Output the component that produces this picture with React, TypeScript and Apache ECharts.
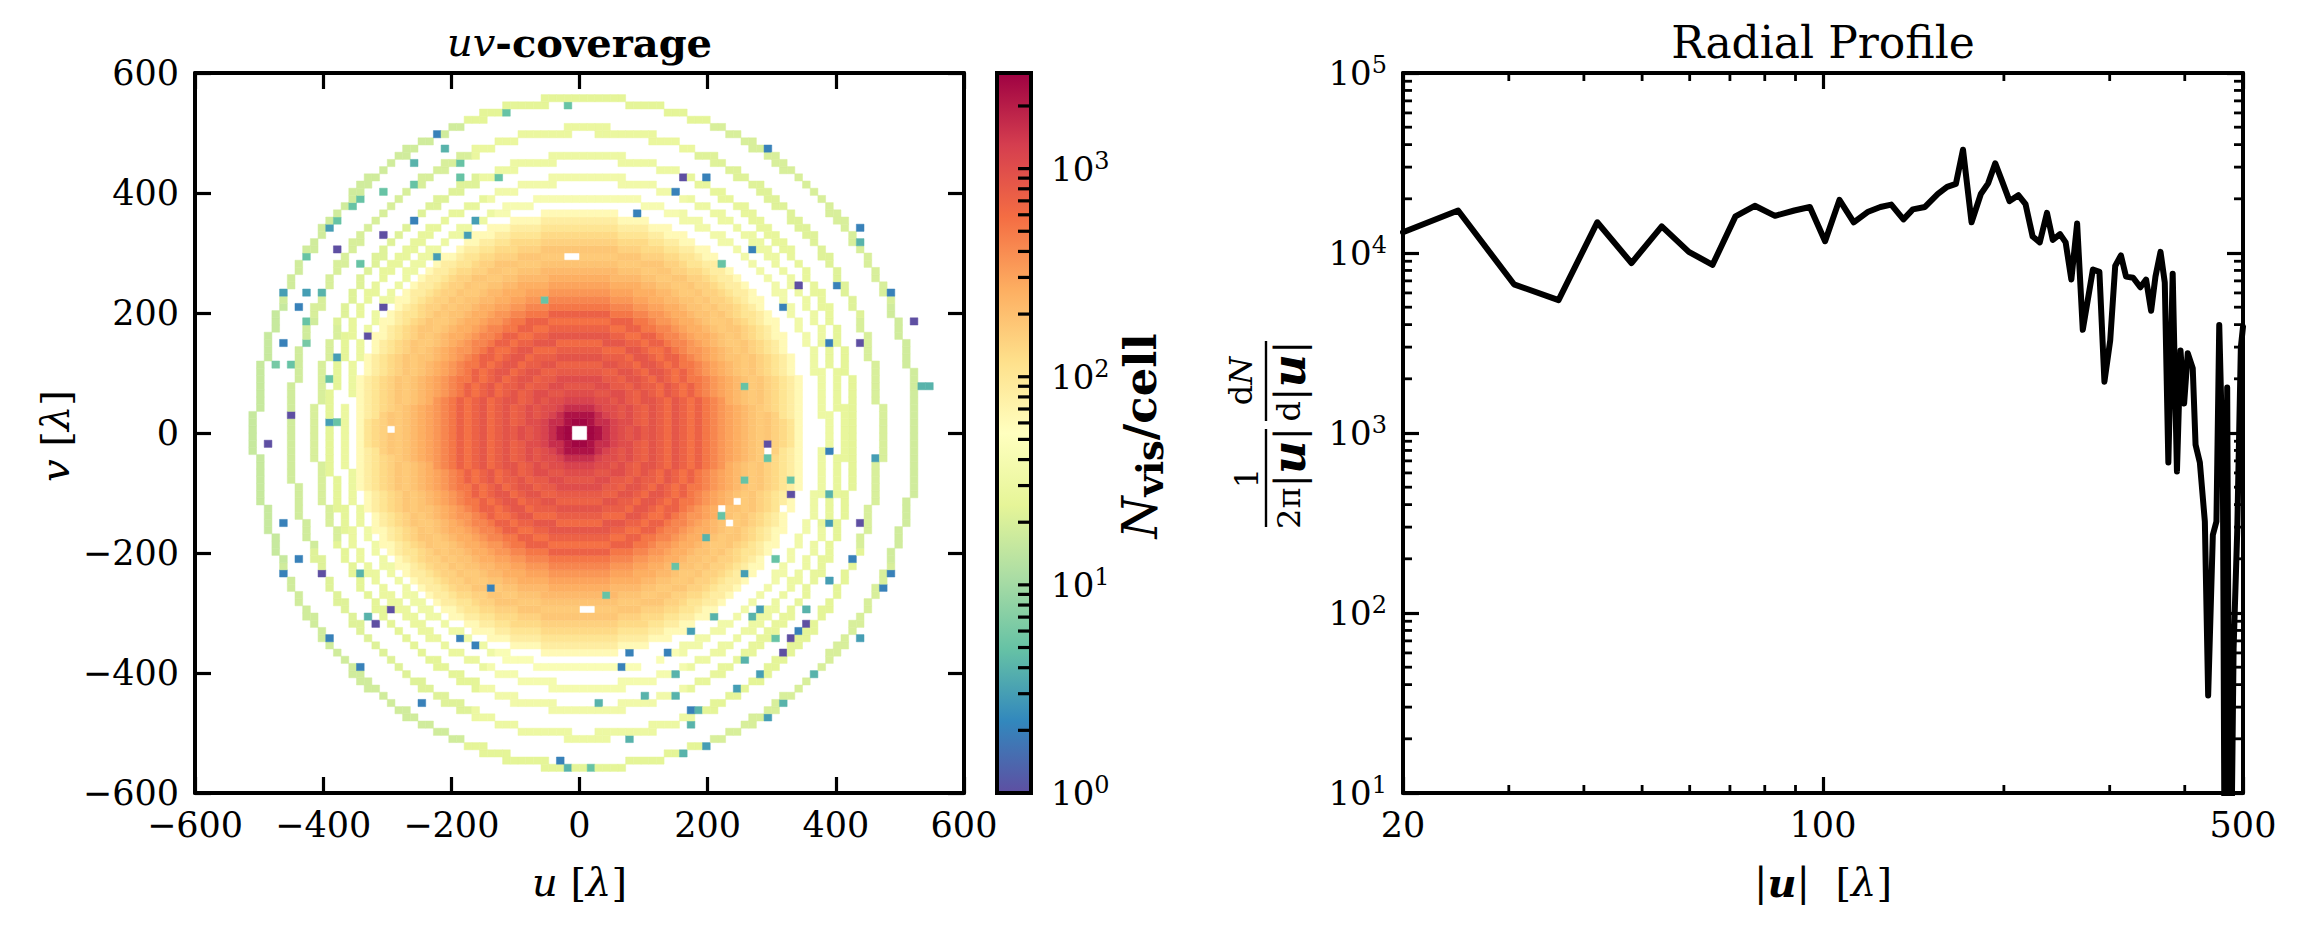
import React, { useEffect, useRef } from "react";
import * as echarts from "echarts";

const SERIF = '"DejaVu Serif", "Liberation Serif", serif';

// ---------------- uv-coverage (left panel) ----------------
const uvMin = -600;
const uvMax = 600;
const uvInterval = 200;
const cellSize = 12;
const cellsPerSide = 100;

// counts per cell in the dense core, by elliptical radius bin (12 λ bins)
const denseBinWidth = 12;
const denseAspectU = 0.95;
const denseCounts = [
  0, 2700, 2300, 1600, 1200, 1000, 850, 1000, 800, 700, 900, 750, 620, 850, 700, 560,
  720, 520, 430, 350, 300, 260, 220, 190, 170, 180, 150, 130, 105, 85, 62,
];

// empty cells inside the dense region
const gapU = [-24, -12, -204, -293, -366, 3, 18, 221, 232, 96, 108, 242, 315, 292];
const gapV = [294, 294, 305, 5, 50, -292, -292, -125, -153, -375, -375, -114, -125, -30];

// outer uv tracks (ellipses): semi-axes and counts per 45° sector (E, NE, N, NW, W, SW, S, SE)
const ringCenterU = 10;
const ringHalfWidth = 6.3;
const ringSemiU = [515, 460, 420, 400, 375];
const ringSemiV = [556, 505, 460, 424, 394];
const ringCounts = [
  [18, 20, 24, 18, 16, 18, 24, 20],
  [20, 22, 28, 20, 18, 22, 30, 24],
  [24, 26, 30, 22, 20, 24, 34, 26],
  [26, 30, 34, 26, 24, 28, 38, 30],
  [30, 34, 40, 30, 28, 32, 44, 34],
];

// sparse low-count cells (blue / purple)
const outlierU = [
  -220, -113, -17, -208, -256, -184, -184, -125, -304, -256, -340, -351, -376, -256, -387, -304, -160, -173, -376, -220,
  -423, -340, -459, -423, -399, -434, -304, -423, -328, -459, -423, -376, -448, -472, -387, -448, -387, -53,
  292, 388, 460, 292, 257, 328, 328, 388, 221, 388, 436, 197, 423, 304, 148, 257, 483, 388, 471, 42, 351, 280,
  268, 208, 351, 340, 328, 172, 436, 304, 315, 77, 137, 257, 65, 280, 148, 365, 245, 172, 185, 100, 148, 315,
  292, 172, 197, 160, 77, 29, 17,
  292, 164, 150, 197, 91, 268, 437, 437, 341, 401, 484, 314, 519, 388, 437, 530, 541, 219, 255,
  -459, -434, -459, -399, -339, -292, -315, -328, -386, -339, -251, -186, -158, -137, -483, -445, -383, -27, -16, 27, 60,
];
const outlierV = [
  494, 531, 544, 471, 448, 448, 423, 423, 400, 411, 388, 376, 351, 351, 340, 328, 351, 328, 304, 292,
  292, 279, 232, 232, 232, 208, 208, 184, 159, 148, 148, 124, 112, 112, 89, 29, 17, 219,
  -19, -32, -43, -43, -79, -79, -103, -103, -139, -151, -151, -175, -211, -211, -222, -235, -235, -246, -258, -270, -294, -294,
  -306, -306, -318, -331, -342, -331, -342, -342, -367, -367, -367, -378, -390, -402, -402, -402, -425, -461, -461, -437, -437, -448,
  -473, -485, -521, -533, -510, -448, -557,
  473, 428, 401, 428, 364, 305, 340, 317, 244, 244, 233, 210, 185, 150, 150, 79, 79, 286, 79,
  -148, -207, -233, -233, -233, -291, -317, -305, -340, -389, -448, -340, -353, -256, -17, 30, 17, -545, -557, -453, -389,
];
const outlierN = [
  2, 5, 5, 4, 4, 5, 5, 5, 5, 5, 5, 5, 5, 2, 3, 1, 3, 3, 1, 3,
  5, 5, 3, 3, 4, 2, 1, 5, 1, 2, 6, 3, 5, 6, 5, 1, 3, 5,
  1, 2, 3, 5, 5, 5, 1, 4, 5, 3, 1, 4, 2, 5, 5, 3, 2, 3, 2, 5, 4, 3,
  4, 4, 1, 2, 1, 3, 3, 5, 1, 2, 2, 4, 4, 3, 4, 4, 3, 2, 4, 4, 4, 4,
  3, 4, 3, 4, 4, 4, 5,
  2, 1, 2, 2, 2, 2, 2, 4, 1, 2, 2, 2, 1, 2, 1, 4, 4, 5, 5,
  2, 2, 2, 1, 4, 1, 1, 4, 2, 2, 2, 2, 2, 2, 1, 1, 5, 2, 4, 4, 2,
];

// colour bar
const colorbarMin = 1;
const colorbarMax = 2880;
const colorbarTickValues = [
  2, 3, 4, 5, 6, 7, 8, 9, 10, 20, 30, 40, 50, 60, 70, 80, 90, 100, 200, 300, 400, 500, 600, 700, 800, 900, 1000, 2000,
];
const spectralR = [
  "#5e4fa2", "#3288bd", "#66c2a5", "#abdda4", "#e6f598", "#ffffbf",
  "#fee08b", "#fdae61", "#f46d43", "#d53e4f", "#9e0142",
];

// ---------------- radial profile (right panel) ----------------
const profileU = [
  20, 24.7, 30.6, 36.3, 42.1, 48.0, 53.9, 59.8, 65.5, 71.5, 77.0, 83.2, 89.6, 95.1, 100.8, 106.5, 112.5, 118.9, 124.6, 129.9,
  136.1, 141.1, 147.8, 155.3, 160.9, 166.4, 171.0, 176.7, 183.1, 188.3, 193.5, 198.9, 204.4, 211.4, 217.3, 223.3, 229.5, 235.9, 241.2, 248.0,
  253.4, 259.0, 264.8, 270.6, 281.3, 288.4, 294.0, 300.6, 306.4, 313.2, 319.4, 328.2, 337.4, 344.9, 351.6, 357.5, 364.5, 370.5, 375.6, 381.9,
  388.2, 393.5, 399.0, 404.6, 412.4, 416.9, 423.8, 432.0, 437.5, 445.4, 451.6, 456.5, 462.9, 466.7, 470.6, 475.7, 482.3, 489.1, 495.9, 500,
];
const profileN = [
  13030, 17220, 6700, 5470, 14810, 8795, 14050, 10150, 8600, 15970, 18300, 16090, 17220, 18020, 11630, 19730, 14810, 16960, 18020, 18570,
  15380, 17480, 18020, 21280, 23290, 24190, 37480, 14810, 21280, 24370, 31510, 24740, 19430, 20960, 18710, 12350, 11460, 16710, 11810, 12730,
  11460, 7120, 14590, 3748, 8095, 7850, 1929, 3272, 8470, 9700, 7394, 7282, 6452, 7120, 4772, 7394, 10150, 6858, 686, 7676,
  612, 2877, 1459, 2771, 2294, 860, 686, 322, 34.8, 271, 322, 3981, 612, 1, 1788, 1, 63.6, 288, 2988, 3890,
];
const radialXMin = 20;
const radialXMax = 500;
const radialYMin = 10;
const radialYMax = 100000;
const radialMinorX = [30, 40, 50, 60, 70, 80, 90, 200, 300, 400];
const radialMinorY = [
  20, 30, 40, 50, 60, 70, 80, 90, 200, 300, 400, 500, 600, 700, 800, 900,
  2000, 3000, 4000, 5000, 6000, 7000, 8000, 9000, 20000, 30000, 40000, 50000, 60000, 70000, 80000, 90000,
];

// ---------------- layout ----------------
const G_UV = { left: 195, top: 73, width: 769, height: 720 };
const G_CB = { left: 997, top: 73, width: 34, height: 720 };
const G_RP = { left: 1403, top: 73, width: 840, height: 720 };

function cellIndex(u: number, v: number) {
  const i = Math.floor((u - uvMin) / cellSize);
  const j = Math.floor((v - uvMin) / cellSize);
  if (i < 0 || i >= cellsPerSide || j < 0 || j >= cellsPerSide) return -1;
  return i * cellsPerSide + j;
}

function buildCells(): number[][] {
  const grid: number[] = new Array(cellsPerSide * cellsPerSide).fill(0);
  for (let i = 0; i < cellsPerSide; i++) {
    const u = uvMin + (i + 0.5) * cellSize;
    for (let j = 0; j < cellsPerSide; j++) {
      const v = uvMin + (j + 0.5) * cellSize;
      const rho = Math.hypot(u / denseAspectU, v);
      const bin = Math.floor(rho / denseBinWidth);
      let n = 0;
      if (bin < denseCounts.length) {
        n = denseCounts[bin];
      } else {
        for (let k = 0; k < ringSemiU.length; k++) {
          const eu = (u - ringCenterU) / ringSemiU[k];
          const ev = v / ringSemiV[k];
          const r = Math.hypot(eu, ev);
          const d = ((r - 1) * (ringSemiU[k] + ringSemiV[k])) / 2;
          if (Math.abs(d) <= ringHalfWidth) {
            const ang = ((Math.atan2(ev, eu) * 180) / Math.PI + 360) % 360;
            const s = Math.floor(((ang + 22.5) % 360) / 45);
            n = Math.max(n, ringCounts[k][s]);
          }
        }
      }
      grid[i * cellsPerSide + j] = n;
    }
  }
  for (let m = 0; m < gapU.length; m++) {
    const idx = cellIndex(gapU[m], gapV[m]);
    if (idx >= 0) grid[idx] = 0;
  }
  for (let m = 0; m < outlierU.length; m++) {
    const idx = cellIndex(outlierU[m], outlierV[m]);
    if (idx >= 0) grid[idx] = outlierN[m];
  }
  const cells: number[][] = [];
  for (let i = 0; i < cellsPerSide; i++) {
    for (let j = 0; j < cellsPerSide; j++) {
      const n = grid[i * cellsPerSide + j];
      if (n > 0) {
        cells.push([uvMin + (i + 0.5) * cellSize, uvMin + (j + 0.5) * cellSize, Math.log10(n), n]);
      }
    }
  }
  return cells;
}

const minusFmt = (v: number) => (v < 0 ? "\u2212" + Math.abs(v) : String(v));
const powFmt = (v: number) => {
  const k = Math.log10(v);
  if (Math.abs(k - Math.round(k)) > 1e-6) return "";
  return `{b|10}{s|${Math.round(k)}}`;
};
const powRich = {
  b: { fontFamily: SERIF, fontSize: 34, lineHeight: 40, color: "#000" },
  s: { fontFamily: SERIF, fontSize: 24, lineHeight: 18, verticalAlign: "top", color: "#000" },
};

const axisLine = { show: true, onZero: false, lineStyle: { color: "#000", width: 4 } };
const majorTick = { show: true, inside: true, length: 16, lineStyle: { color: "#000", width: 3.2 } };
const tickLabel = { color: "#000", fontFamily: SERIF, fontSize: 35 };

export default function App() {
  const ref = useRef<HTMLDivElement>(null);
  useEffect(() => {
    if (!ref.current) return;
    const chart = echarts.init(ref.current, undefined, { renderer: "svg" });
    const cells = buildCells();
    const logMax = Math.log10(colorbarMax);

    const uvAxisCommon = {
      type: "value" as const,
      min: uvMin,
      max: uvMax,
      interval: uvInterval,
      axisLine,
      axisTick: majorTick,
      splitLine: { show: false },
      z: 5,
    };
    const logX = {
      type: "log" as const,
      logBase: 10,
      min: radialXMin,
      max: radialXMax,
      axisLine,
      axisTick: majorTick,
      splitLine: { show: false },
      minorTick: { show: false },
      z: 5,
    };
    const logY = {
      type: "log" as const,
      logBase: 10,
      min: radialYMin,
      max: radialYMax,
      axisLine,
      axisTick: majorTick,
      splitLine: { show: false },
      minorTick: { show: false },
      z: 5,
    };

    const rich = {
      r: { fontFamily: SERIF, fontSize: 40, color: "#000" },
      i: { fontFamily: SERIF, fontSize: 40, fontStyle: "italic", color: "#000" },
      bi: { fontFamily: SERIF, fontSize: 40, fontStyle: "italic", fontWeight: "bold", color: "#000" },
      b: { fontFamily: SERIF, fontSize: 40, fontWeight: "bold", color: "#000" },
    };
    const fracRich = {
      n: { fontFamily: SERIF, fontSize: 32, color: "#000", lineHeight: 44 },
      ni: { fontFamily: SERIF, fontSize: 32, fontStyle: "italic", color: "#000", lineHeight: 44 },
      v: { fontFamily: SERIF, fontSize: 40, color: "#000", lineHeight: 44 },
      u: { fontFamily: SERIF, fontSize: 46, fontStyle: "italic", fontWeight: "bold", color: "#000", lineHeight: 44 },
    };

    const option: any = {
      animation: false,
      backgroundColor: "#fff",
      grid: [
        { ...G_UV, outerBoundsMode: "none" },
        { ...G_CB, outerBoundsMode: "none" },
        { ...G_RP, outerBoundsMode: "none" },
      ],
      xAxis: [
        { ...uvAxisCommon, gridIndex: 0, position: "bottom", axisLabel: { ...tickLabel, margin: 14, formatter: minusFmt } },
        { ...uvAxisCommon, gridIndex: 0, position: "top", axisLabel: { show: false } },
        { type: "value", gridIndex: 1, min: 0, max: 1, show: false },
        {
          ...logX,
          gridIndex: 2,
          position: "bottom",
          axisLabel: { ...tickLabel, margin: 14, showMinLabel: true, showMaxLabel: true, formatter: (v: number) => String(Math.round(v)) },
        },
        { ...logX, gridIndex: 2, position: "top", axisLabel: { show: false } },
      ],
      yAxis: [
        { ...uvAxisCommon, gridIndex: 0, position: "left", axisLabel: { ...tickLabel, margin: 16, formatter: minusFmt } },
        { ...uvAxisCommon, gridIndex: 0, position: "right", axisLabel: { show: false } },
        {
          type: "log",
          logBase: 10,
          gridIndex: 1,
          min: colorbarMin,
          max: colorbarMax,
          position: "right",
          axisLine: { show: false },
          axisTick: { show: false },
          splitLine: { show: false },
          axisLabel: { margin: 20, formatter: powFmt, rich: powRich, showMinLabel: true, showMaxLabel: true },
        },
        { ...logY, gridIndex: 2, position: "left", axisLabel: { margin: 16, formatter: powFmt, rich: powRich, showMinLabel: true, showMaxLabel: true } },
        { ...logY, gridIndex: 2, position: "right", axisLabel: { show: false } },
      ],
      visualMap: [
        {
          type: "continuous",
          show: false,
          seriesIndex: 0,
          dimension: 2,
          min: 0,
          max: logMax,
          inRange: { color: spectralR },
        },
      ],
      series: [
        {
          type: "custom",
          name: "uv cells",
          xAxisIndex: 0,
          yAxisIndex: 0,
          dimensions: ["u", "v", "logN", "N"],
          encode: { x: 0, y: 1 },
          data: cells,
          silent: true,
          renderItem: (params: any, api: any) => {
            const u = api.value(0);
            const v = api.value(1);
            const p0 = api.coord([u - cellSize / 2, v + cellSize / 2]);
            const p1 = api.coord([u + cellSize / 2, v - cellSize / 2]);
            const c = api.visual("color");
            return {
              type: "rect",
              shape: { x: p0[0], y: p0[1], width: p1[0] - p0[0], height: p1[1] - p0[1] },
              style: { fill: c, stroke: c, lineWidth: 0.5 },
            };
          },
        },
        {
          type: "custom",
          name: "colorbar",
          xAxisIndex: 2,
          yAxisIndex: 2,
          data: [[0, colorbarMin]],
          silent: true,
          renderItem: (params: any, api: any) => {
            const pb = api.coord([0, colorbarMin]);
            const pt = api.coord([1, colorbarMax]);
            return {
              type: "rect",
              shape: { x: pb[0], y: pt[1], width: pt[0] - pb[0], height: pb[1] - pt[1] },
              style: {
                fill: new echarts.graphic.LinearGradient(
                  0, 1, 0, 0,
                  spectralR.map((c, k) => ({ offset: k / (spectralR.length - 1), color: c }))
                ),
              },
            };
          },
        },
        {
          type: "custom",
          name: "colorbar ticks",
          xAxisIndex: 2,
          yAxisIndex: 2,
          data: colorbarTickValues.map((t) => [1, t]),
          silent: true,
          z: 10,
          renderItem: (params: any, api: any) => {
            const p = api.coord([1, api.value(1)]);
            return {
              type: "line",
              shape: { x1: p[0] - 13, y1: p[1], x2: p[0], y2: p[1] },
              style: { stroke: "#000", lineWidth: 3.2 },
            };
          },
        },
        {
          type: "line",
          name: "radial profile",
          xAxisIndex: 3,
          yAxisIndex: 3,
          data: profileU.map((u, k) => [u, profileN[k]]),
          showSymbol: false,
          symbol: "none",
          clip: true,
          z: 3,
          lineStyle: { color: "#000", width: 6, join: "round", cap: "round" },
        },
        {
          type: "custom",
          name: "x minor ticks",
          xAxisIndex: 3,
          yAxisIndex: 3,
          data: radialMinorX.map((x) => [x, radialYMin]),
          silent: true,
          z: 6,
          renderItem: (params: any, api: any) => {
            const cs = params.coordSys;
            const x = api.coord([api.value(0), radialYMin])[0];
            const st = { stroke: "#000", lineWidth: 2.8 };
            return {
              type: "group",
              children: [
                { type: "line", shape: { x1: x, y1: cs.y + cs.height, x2: x, y2: cs.y + cs.height - 8 }, style: st },
                { type: "line", shape: { x1: x, y1: cs.y, x2: x, y2: cs.y + 8 }, style: st },
              ],
            };
          },
        },
        {
          type: "custom",
          name: "y minor ticks",
          xAxisIndex: 3,
          yAxisIndex: 3,
          data: radialMinorY.map((y) => [radialXMin, y]),
          silent: true,
          z: 6,
          renderItem: (params: any, api: any) => {
            const cs = params.coordSys;
            const y = api.coord([radialXMin, api.value(1)])[1];
            const st = { stroke: "#000", lineWidth: 2.8 };
            return {
              type: "group",
              children: [
                { type: "line", shape: { x1: cs.x, y1: y, x2: cs.x + 9, y2: y }, style: st },
                { type: "line", shape: { x1: cs.x + cs.width, y1: y, x2: cs.x + cs.width - 9, y2: y }, style: st },
              ],
            };
          },
        },
      ],
      graphic: [
        {
          type: "rect",
          z: 100,
          shape: { x: G_CB.left, y: G_CB.top, width: G_CB.width, height: G_CB.height },
          style: { fill: "none", stroke: "#000", lineWidth: 4 },
        },
        {
          type: "text",
          z: 100,
          x: G_UV.left + G_UV.width / 2,
          y: 42,
          style: { text: "{i|uv}{b|-coverage}", rich, align: "center", verticalAlign: "middle" },
        },
        {
          type: "text",
          z: 100,
          x: G_RP.left + G_RP.width / 2,
          y: 42,
          style: { text: "Radial Profile", fontFamily: SERIF, fontSize: 44, fill: "#000", align: "center", verticalAlign: "middle" },
        },
        {
          type: "text",
          z: 100,
          x: G_UV.left + G_UV.width / 2,
          y: 882,
          style: { text: "{i|u}{r| [}{i|λ}{r|]}", rich, align: "center", verticalAlign: "middle" },
        },
        {
          type: "text",
          z: 100,
          x: 55,
          y: 436,
          rotation: Math.PI / 2,
          style: { text: "{i|v}{r| [}{i|λ}{r|]}", rich, align: "center", verticalAlign: "middle" },
        },
        {
          type: "text",
          z: 100,
          x: G_RP.left + G_RP.width / 2,
          y: 882,
          style: { text: "{r||}{bi|u}{r||  [}{i|λ}{r|]}", rich, align: "center", verticalAlign: "middle" },
        },
        {
          type: "text",
          z: 100,
          x: 1140,
          y: 436,
          rotation: Math.PI / 2,
          style: {
            text: "{i|N}{s|vis}{b|/cell}",
            rich: {
              i: { fontFamily: SERIF, fontSize: 48, fontStyle: "italic", lineHeight: 56, color: "#000" },
              s: { fontFamily: SERIF, fontSize: 37, fontWeight: "bold", lineHeight: 34, verticalAlign: "bottom", color: "#000" },
              b: { fontFamily: SERIF, fontSize: 45, fontWeight: "bold", lineHeight: 56, color: "#000" },
            },
            align: "center",
            verticalAlign: "middle",
          },
        },
        {
          type: "group",
          z: 100,
          x: 1266,
          y: 433,
          rotation: Math.PI / 2,
          children: [
            { type: "line", shape: { x1: -94, y1: 0, x2: 4, y2: 0 }, style: { stroke: "#000", lineWidth: 2.4 } },
            {
              type: "text",
              x: -45,
              y: -3,
              style: { text: "1", fontFamily: SERIF, fontSize: 32, fill: "#000", align: "center", verticalAlign: "bottom" },
            },
            {
              type: "text",
              x: -45,
              y: 1,
              style: { text: "{n|2π}{v||}{u|u}{v||}", rich: fracRich, align: "center", verticalAlign: "top" },
            },
            { type: "line", shape: { x1: 12, y1: 0, x2: 92, y2: 0 }, style: { stroke: "#000", lineWidth: 2.4 } },
            {
              type: "text",
              x: 52,
              y: -3,
              style: { text: "{n|d}{ni|N}", rich: fracRich, align: "center", verticalAlign: "bottom" },
            },
            {
              type: "text",
              x: 52,
              y: 1,
              style: { text: "{n|d}{v||}{u|u}{v||}", rich: fracRich, align: "center", verticalAlign: "top" },
            },
          ],
        },
      ],
    };
    chart.setOption(option);
    return () => chart.dispose();
  }, []);
  return (
    <div
      ref={ref}
      style={{ position: "absolute", left: 0, top: 0, width: 2323, height: 925, background: "#fff" }}
    />
  );
}
